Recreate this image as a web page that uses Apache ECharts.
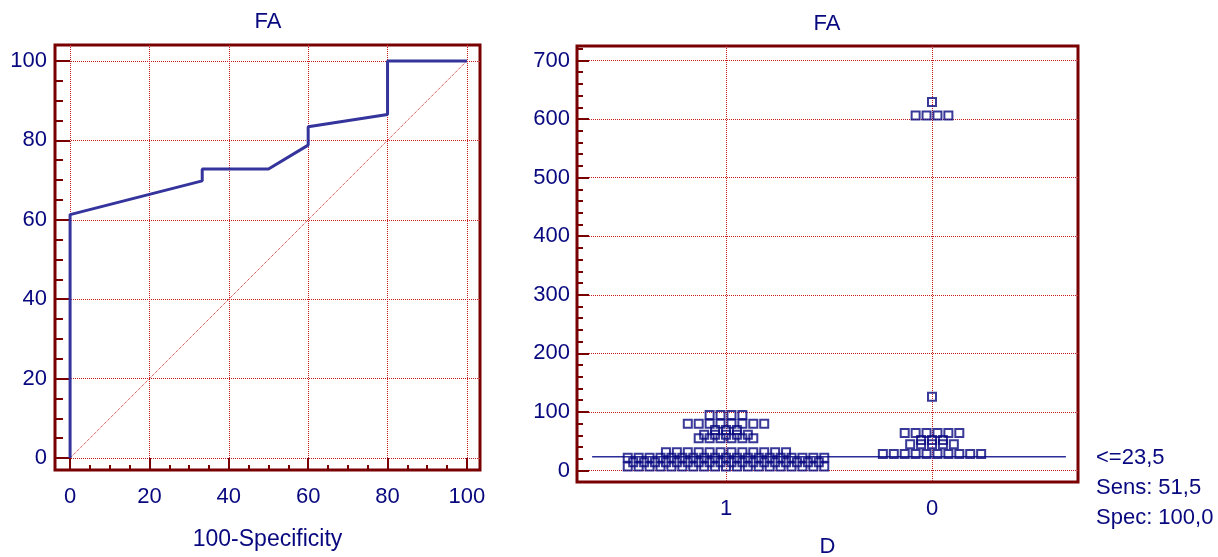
<!DOCTYPE html>
<html>
<head>
<meta charset="utf-8">
<script src="https://cdn.jsdelivr.net/npm/echarts@6/dist/echarts.min.js"></script>
<style>
  html, body { margin: 0; padding: 0; background: #ffffff; }
  #chart { width: 1218px; height: 557px; }
</style>
</head>
<body>
<div id="chart"></div>
<script>
// ROC curve for FA: 100-Specificity (x) against Sensitivity (y)
const rocX = [0, 0, 33.3, 33.3, 50, 60, 60, 80, 80, 100];
const rocY = [0, 61.3, 69.8, 72.8, 72.8, 78.8, 83.4, 86.5, 100, 100];
const diagX = [0, 100];
const diagY = [0, 100];

// Dot plot of FA by D
const groupNames = ['1', '0'];
const faD1 = [
  95, 95, 95, 95,
  80, 80, 80, 80, 80, 80, 80, 80,
  69, 69, 69,
  61, 61, 61, 61, 61,
  55, 55, 55, 55, 55, 55,
  31, 31, 31, 31, 31, 31, 31, 31, 31, 31, 31, 31,
  22, 22, 22, 22, 22, 22, 22, 22, 22, 22, 22, 22, 22, 22, 22, 22, 22, 22, 22,
  14, 14, 14, 14, 14, 14, 14, 14, 14, 14, 14, 14, 14, 14, 14, 14, 14, 14,
  7, 7, 7, 7, 7, 7, 7, 7, 7, 7, 7, 7, 7, 7, 7, 7, 7, 7, 7
];
const faD0 = [
  629,
  606, 606, 606, 606,
  126,
  64, 64, 64, 64, 64, 64,
  52, 52, 52,
  45, 45, 45, 45, 45,
  28, 28, 28, 28, 28, 28, 28, 28, 28, 28
];
const cutoff = 23.5;
const sens = 51.5;
const spec = 100.0;

const NAVY = '#08087f';
const FRAME = '#780000';
const GRID = '#c41a1a';
const FONT = '"Liberation Sans", Arial, sans-serif';

// spread equal values side by side around the group centre
function dotLayout(values, center, step) {
  const counts = {};
  values.forEach(v => { counts[v] = (counts[v] || 0) + 1; });
  const seen = {};
  return values.map(v => {
    seen[v] = seen[v] === undefined ? 0 : seen[v] + 1;
    return [center + (seen[v] - (counts[v] - 1) / 2) * step, v];
  });
}
const DOT_STEP = 0.053;
const fmt1 = v => v.toFixed(1).replace('.', ',');

const chart = echarts.init(document.getElementById('chart'), null, { renderer: 'canvas' });

const splitLineStyle = { show: true, showMinLine: false, showMaxLine: false,
  lineStyle: { color: GRID, type: [1, 1], width: 1 } };
const labelStyle = { color: NAVY, fontSize: 22, fontFamily: FONT };
const noLine = { show: false, onZero: false };

chart.setOption({
  animation: false,
  backgroundColor: '#ffffff',
  grid: [
    { left: 55, top: 45, width: 425, height: 425, outerBoundsMode: 'none', containLabel: false,
      show: true, borderColor: FRAME, borderWidth: 3, backgroundColor: 'transparent' },
    { left: 577, top: 46, width: 501, height: 436, outerBoundsMode: 'none', containLabel: false,
      show: true, borderColor: FRAME, borderWidth: 3, backgroundColor: 'transparent' }
  ],
  xAxis: [
    { type: 'value', gridIndex: 0, position: 'bottom', min: -3.8, max: 103.3, splitNumber: 5,
      axisLine: noLine,
      axisTick: { show: true, inside: true, length: 12, lineStyle: { color: FRAME, width: 2 } },
      axisLabel: Object.assign({ margin: 16, showMinLabel: false, showMaxLabel: false }, labelStyle),
      splitLine: splitLineStyle,
      name: '100-Specificity', nameLocation: 'middle', nameGap: 58,
      nameTextStyle: { color: NAVY, fontSize: 23, fontFamily: FONT } },
    { type: 'value', gridIndex: 0, position: 'bottom', min: -3.8, max: 103.3, splitNumber: 20,
      axisLine: noLine,
      axisTick: { show: true, inside: true, length: 5, lineStyle: { color: FRAME, width: 2 } },
      axisLabel: { show: false }, splitLine: { show: false } },
    { type: 'value', gridIndex: 1, position: 'bottom', min: -0.7233, max: 1.7087, splitNumber: 2,
      axisLine: noLine,
      axisTick: { show: false },
      axisLabel: Object.assign({ margin: 16, showMinLabel: false, showMaxLabel: false,
        formatter: v => (v === 0 ? groupNames[0] : (v === 1 ? groupNames[1] : '')) }, labelStyle),
      splitLine: splitLineStyle,
      name: 'D', nameLocation: 'middle', nameGap: 54,
      nameTextStyle: { color: NAVY, fontSize: 22, fontFamily: FONT } }
  ],
  yAxis: [
    { type: 'value', gridIndex: 0, position: 'left', min: -3, max: 104, splitNumber: 5,
      axisLine: noLine,
      axisTick: { show: true, inside: true, length: 15, lineStyle: { color: FRAME, width: 2 } },
      axisLabel: Object.assign({ margin: 8, showMinLabel: false, showMaxLabel: false }, labelStyle),
      splitLine: splitLineStyle },
    { type: 'value', gridIndex: 0, position: 'left', min: -3, max: 104, splitNumber: 20,
      axisLine: noLine,
      axisTick: { show: true, inside: true, length: 8, lineStyle: { color: FRAME, width: 2 } },
      axisLabel: { show: false }, splitLine: { show: false } },
    { type: 'value', gridIndex: 1, position: 'left', min: -19.6, max: 724.8, splitNumber: 7,
      axisLine: noLine,
      axisTick: { show: true, inside: true, length: 12, lineStyle: { color: FRAME, width: 2 } },
      axisLabel: Object.assign({ margin: 7, showMinLabel: false, showMaxLabel: false }, labelStyle),
      splitLine: splitLineStyle },
    { type: 'value', gridIndex: 1, position: 'left', min: -19.6, max: 724.8, splitNumber: 37,
      axisLine: noLine,
      axisTick: { show: true, inside: true, length: 6, lineStyle: { color: FRAME, width: 2 } },
      axisLabel: { show: false }, splitLine: { show: false } }
  ],
  series: [
    { type: 'line', xAxisIndex: 0, yAxisIndex: 0, symbol: 'none', silent: true,
      data: diagX.map((x, i) => [x, diagY[i]]),
      lineStyle: { color: GRID, width: 1, type: [1, 1] }, z: 2 },
    { type: 'line', xAxisIndex: 0, yAxisIndex: 0, symbol: 'none',
      data: rocX.map((x, i) => [x, rocY[i]]),
      lineStyle: { color: '#34349c', width: 3 }, z: 3 },
    { type: 'line', xAxisIndex: 2, yAxisIndex: 2, symbol: 'none',
      data: [[-0.65, cutoff], [1.65, cutoff]],
      lineStyle: { color: '#2c2c9a', width: 1.5 }, z: 2 },
    { type: 'scatter', xAxisIndex: 2, yAxisIndex: 2, symbol: 'rect', symbolSize: 8,
      data: dotLayout(faD1, 0, DOT_STEP),
      itemStyle: { color: 'rgba(255,255,255,0)', borderColor: NAVY, borderWidth: 2 }, z: 3 },
    { type: 'scatter', xAxisIndex: 2, yAxisIndex: 2, symbol: 'rect', symbolSize: 8,
      data: dotLayout(faD0, 1, DOT_STEP),
      itemStyle: { color: 'rgba(255,255,255,0)', borderColor: NAVY, borderWidth: 2 }, z: 3 }
  ],
  graphic: [
    { type: 'text', x: 268, y: 22, style: { text: 'FA', fill: NAVY, font: '22px ' + FONT, align: 'center', verticalAlign: 'middle', textAlign: 'center', textVerticalAlign: 'middle' } },
    { type: 'text', x: 827, y: 24, style: { text: 'FA', fill: NAVY, font: '22px ' + FONT, align: 'center', verticalAlign: 'middle', textAlign: 'center', textVerticalAlign: 'middle' } },
    { type: 'text', x: 1096, y: 458, style: { text: '<=' + fmt1(cutoff), fill: NAVY, font: '22px ' + FONT, align: 'left', verticalAlign: 'middle', textAlign: 'left', textVerticalAlign: 'middle' } },
    { type: 'text', x: 1096, y: 488, style: { text: 'Sens: ' + fmt1(sens), fill: NAVY, font: '22px ' + FONT, align: 'left', verticalAlign: 'middle', textAlign: 'left', textVerticalAlign: 'middle' } },
    { type: 'text', x: 1096, y: 518, style: { text: 'Spec: ' + fmt1(spec), fill: NAVY, font: '22px ' + FONT, align: 'left', verticalAlign: 'middle', textAlign: 'left', textVerticalAlign: 'middle' } }
  ]
});
</script>
</body>
</html>
